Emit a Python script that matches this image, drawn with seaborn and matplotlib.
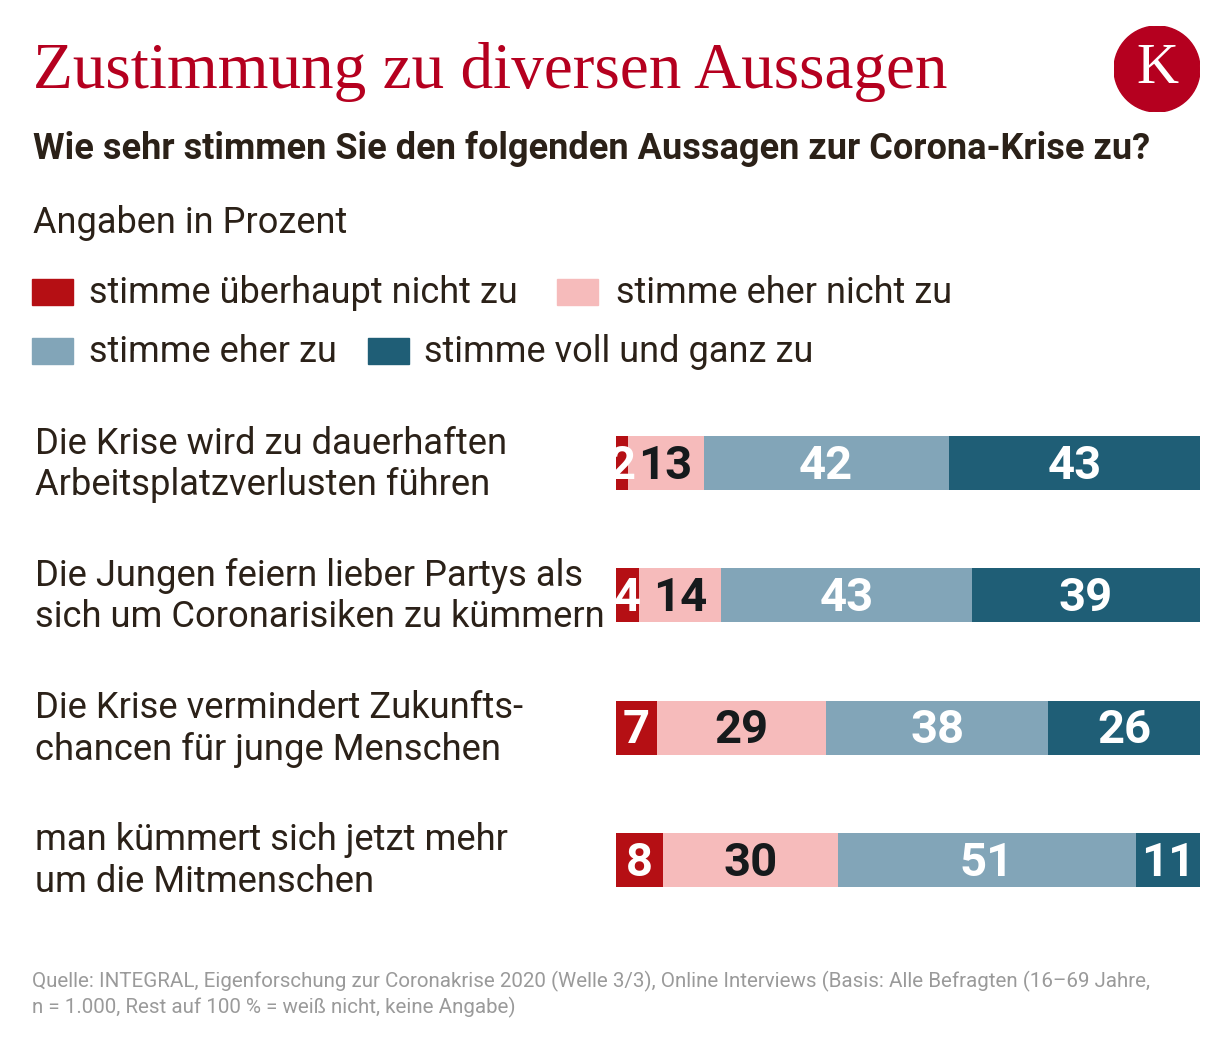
import numpy as np
import pandas as pd
import matplotlib
matplotlib.use("Agg")
import matplotlib.pyplot as plt
import matplotlib.transforms as mtransforms
from matplotlib.patches import Rectangle, Circle
import seaborn as sns

# ---- data ----
statements = [
    "Die Krise wird zu dauerhaften\nArbeitsplatzverlusten führen",
    "Die Jungen feiern lieber Partys als\nsich um Coronarisiken zu kümmern",
    "Die Krise vermindert Zukunfts-\nchancen für junge Menschen",
    "man kümmert sich jetzt mehr\num die Mitmenschen",
]
categories = ["stimme überhaupt nicht zu", "stimme eher nicht zu",
              "stimme eher zu", "stimme voll und ganz zu"]
v_gar_nicht = [2, 4, 7, 8]
v_eher_nicht = [13, 14, 29, 30]
v_eher = [42, 43, 38, 51]
v_voll = [43, 39, 26, 11]

title = "Zustimmung zu diversen Aussagen"
subtitle = "Wie sehr stimmen Sie den folgenden Aussagen zur Corona-Krise zu?"
unit = "Angaben in Prozent"
source = ("Quelle: INTEGRAL, Eigenforschung zur Coronakrise 2020 (Welle 3/3), Online Interviews (Basis: Alle Befragten (16–69 Jahre,\n"
          "n = 1.000, Rest auf 100 % = weiß nicht, keine Angabe)")

colors = ["#b50f14", "#f6bbbb", "#82a5b8", "#1f5e76"]
label_colors = ["white", "#161a1c", "white", "white"]
text_col = "#2b2118"
brand_red = "#b5001f"

sns.set_theme(style="white")
plt.rcParams['font.family'] = ['Roboto', 'DejaVu Sans']

W, H = 1232, 1048
fig = plt.figure(figsize=(W / 100, H / 100), dpi=100)

# axes placement: x 616..1200 px, y 397..926 px
ax = fig.add_axes([616 / W, 1 - 926 / H, 584 / W, 529 / H])

series = [v_gar_nicht, v_eher_nicht, v_eher, v_voll]
cums = np.cumsum(np.array(series), axis=0)
keys = [f"k{i}" for i in range(len(statements))]
df = pd.DataFrame({"key": keys})
for j in range(4):
    df[f"c{j}"] = cums[j]

for j in range(3, -1, -1):
    sns.barplot(data=df, x=f"c{j}", y="key", orient="h", color=colors[j],
                width=0.41, ax=ax, saturation=1, linewidth=0)

ax.set_xlim(0, 100)
ax.set_ylim(3.5, -0.5)
ax.axis("off")

for i in range(len(statements)):
    left = 0
    for j in range(4):
        v = series[j][i]
        ax.text(left + v / 2, i + 0.02, str(v), ha="center", va="center",
                fontsize=34, fontweight="bold", color=label_colors[j])
        left += v

trans = mtransforms.blended_transform_factory(fig.transFigure, ax.transData)
for i, s in enumerate(statements):
    ax.text(35 / W, i + 0.01, s, transform=trans, ha="left", va="center",
            fontsize=26.2, color=text_col, linespacing=1.2)

# titles
fig.text(33 / W, 1 - 72 / H, title, fontsize=47, color=brand_red,
         family="Liberation Serif", va="center", ha="left")
fig.text(33 / W, 1 - 149 / H, subtitle, fontsize=26, fontweight="bold",
         color=text_col, va="center", ha="left")
fig.text(33 / W, 1 - 223 / H, unit, fontsize=26, color=text_col,
         va="center", ha="left")

# legend
leg_items = [(32, 292, 89), (557, 292, 616), (32, 351, 89), (368, 351, 424)]
for j, (sx, cy, tx) in enumerate(leg_items):
    fig.patches.append(Rectangle((sx / W, 1 - (cy + 13) / H), 41 / W, 26 / H,
                                 transform=fig.transFigure, color=colors[j]))
    fig.text(tx / W, 1 - (cy + 1) / H, categories[j], fontsize=26, color=text_col,
             va="center", ha="left")

# logo
logo_ax = fig.add_axes([(1157 - 43) / W, 1 - (69 + 43) / H, 86 / W, 86 / H])
logo_ax.set_xlim(-1, 1)
logo_ax.set_ylim(-1, 1)
logo_ax.axis("off")
logo_ax.add_patch(Circle((0, 0), 1, color=brand_red))
logo_ax.text(0, 0.0, "K", ha="center", va="center", fontsize=42, color="white",
             family="Liberation Serif")

# source
fig.text(32 / W, 1 - 994 / H, source, fontsize=14.8, color="#9a9a9a",
         va="center", ha="left", linespacing=1.3)

fig.savefig("out.png", dpi=100, facecolor="white")
